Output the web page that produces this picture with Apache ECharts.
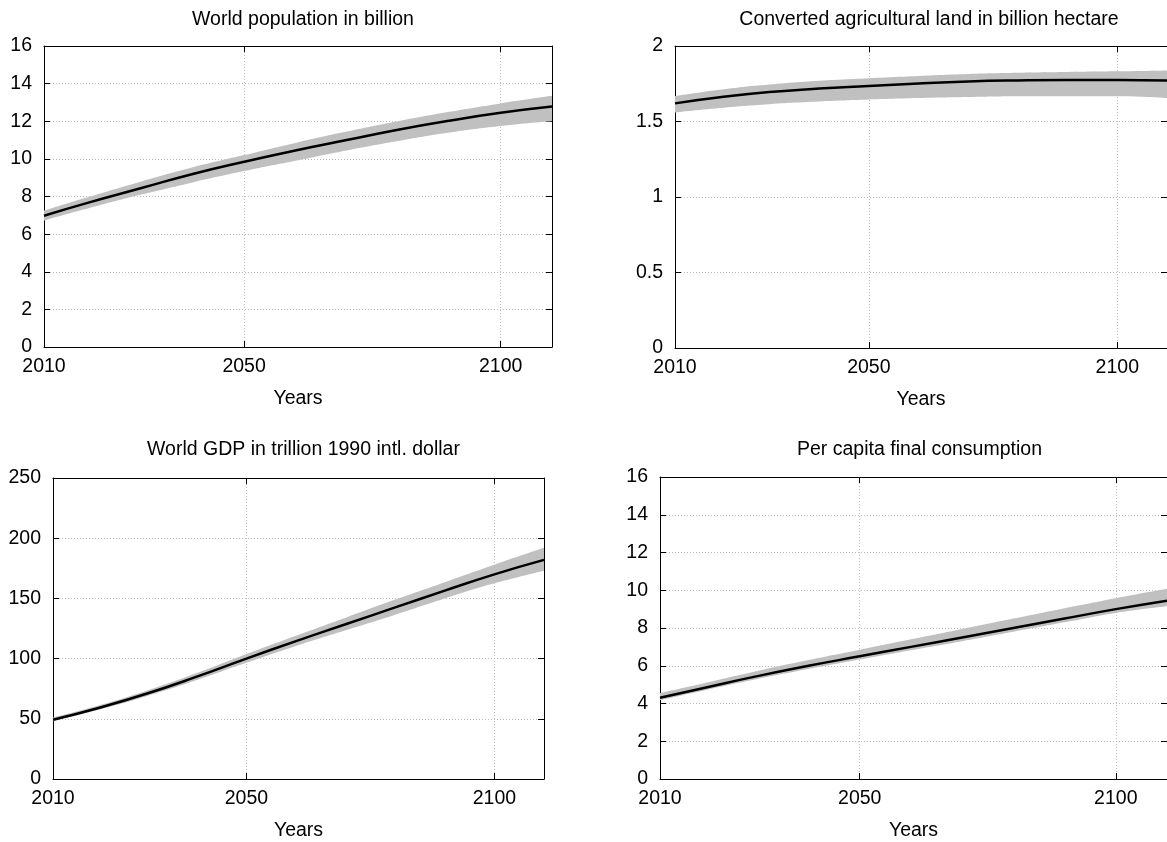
<!DOCTYPE html>
<html>
<head>
<meta charset="utf-8">
<script src="https://cdn.jsdelivr.net/npm/echarts@6/dist/echarts.min.js"></script>
<style>
html,body{margin:0;padding:0;background:#fff;}
#chart{width:1167px;height:842px;}
</style>
</head>
<body>
<div id="chart"></div>
<script>
// ---- data ----
const years = [2011, 2020, 2030, 2040, 2050, 2060, 2070, 2080, 2090, 2100, 2110];

const popMean = [6.98, 7.7, 8.45, 9.2, 9.85, 10.45, 11.0, 11.55, 12.03, 12.45, 12.78];
const popHigh = [7.25, 8.0, 8.8, 9.55, 10.2, 10.85, 11.45, 12.0, 12.5, 12.95, 13.35];
const popLow  = [6.72, 7.4, 8.1, 8.75, 9.35, 9.9, 10.45, 10.95, 11.4, 11.75, 12.0];

const landMean = [1.62, 1.66, 1.695, 1.718, 1.735, 1.752, 1.765, 1.772, 1.775, 1.775, 1.772];
const landHigh = [1.668, 1.71, 1.745, 1.77, 1.787, 1.802, 1.815, 1.823, 1.828, 1.832, 1.838];
const landLow  = [1.56, 1.59, 1.615, 1.632, 1.645, 1.655, 1.662, 1.667, 1.668, 1.667, 1.655];

const gdpMean = [49.2, 58.8, 71, 85, 100, 114.5, 128.5, 142.5, 156.5, 170, 182];
const gdpHigh = [51, 60.8, 73.5, 88, 103.8, 119, 134, 149, 163.5, 178, 192];
const gdpLow  = [48, 57.3, 69, 82.2, 96.5, 110.5, 123.5, 136.5, 150, 162.5, 173];

const consMean = [4.3, 4.85, 5.45, 6.0, 6.5, 7.0, 7.5, 8.0, 8.5, 9.0, 9.45];
const consHigh = [4.55, 5.1, 5.72, 6.3, 6.85, 7.4, 7.95, 8.5, 9.05, 9.58, 10.08];
const consLow  = [4.18, 4.72, 5.3, 5.83, 6.33, 6.82, 7.3, 7.8, 8.3, 8.8, 9.15];

const titles = [
  'World population in billion',
  'Converted agricultural land in billion hectare',
  'World GDP in trillion 1990 intl. dollar',
  'Per capita final consumption'
];
const xName = 'Years';
const xMin = 2011, xMax = 2110;
const xTickValues = [2011, 2050, 2100];
const xTickLabels = ['2010', '2050', '2100'];

const yRanges = [
  {min: 0, max: 16, interval: 2},
  {min: 0, max: 2, interval: 0.5},
  {min: 0, max: 250, interval: 50},
  {min: 0, max: 16, interval: 2}
];

const panelData = [
  {mean: popMean, low: popLow, high: popHigh},
  {mean: landMean, low: landLow, high: landHigh},
  {mean: gdpMean, low: gdpLow, high: gdpHigh},
  {mean: consMean, low: consLow, high: consHigh}
];

// ---- layout ----
const grids = [
  {left: 44, top: 46, width: 508, height: 301},
  {left: 675, top: 46, width: 498, height: 302},
  {left: 53, top: 478, width: 491, height: 301},
  {left: 660, top: 477, width: 509, height: 302}
];
const titleTops = [5, 5, 435, 435];

const FONT = "'Liberation Sans', Arial, sans-serif";
const FS = 19.5;
const BAND = '#c0c0c0';
const GRIDLINE = {color: '#bdbdbd', width: 1, type: [1, 2]};

const option = {
  animation: false,
  backgroundColor: '#fff',
  textStyle: {fontFamily: FONT},
  title: [],
  grid: [],
  xAxis: [],
  yAxis: [],
  series: []
};

grids.forEach((g, i) => {
  option.grid.push({left: g.left, top: g.top, width: g.width, height: g.height, containLabel: false});
  option.title.push({
    text: titles[i],
    left: g.left + g.width / 2,
    top: titleTops[i],
    textAlign: 'center',
    textStyle: {fontFamily: FONT, fontSize: FS, fontWeight: 'normal', color: '#000'}
  });
  const tickFmt = (v) => {
    const k = xTickValues.indexOf(v);
    return k >= 0 ? xTickLabels[k] : '';
  };
  option.xAxis.push({
    gridIndex: i, type: 'value', min: xMin, max: xMax, position: 'bottom',
    name: xName, nameLocation: 'middle', nameGap: 42,
    nameTextStyle: {fontFamily: FONT, fontSize: FS, color: '#000'},
    axisLine: {show: true, onZero: false, lineStyle: {color: '#000', width: 1}},
    axisTick: {show: true, inside: true, length: 6, customValues: xTickValues, lineStyle: {color: '#000'}},
    axisLabel: {show: true, customValues: xTickValues, formatter: tickFmt, margin: 10,
      fontFamily: FONT, fontSize: FS, color: '#000'},
    splitLine: {show: true, lineStyle: GRIDLINE}
  });
  option.xAxis.push({
    gridIndex: i, type: 'value', min: xMin, max: xMax, position: 'top',
    axisLine: {show: true, onZero: false, lineStyle: {color: '#000', width: 1}},
    axisTick: {show: true, inside: true, length: 6, customValues: xTickValues, lineStyle: {color: '#000'}},
    axisLabel: {show: false},
    splitLine: {show: false}
  });
  const yr = yRanges[i];
  option.yAxis.push({
    gridIndex: i, type: 'value', min: yr.min, max: yr.max, interval: yr.interval, position: 'left',
    axisLine: {show: true, onZero: false, lineStyle: {color: '#000', width: 1}},
    axisTick: {show: true, inside: true, length: 6, lineStyle: {color: '#000'}},
    axisLabel: {show: true, margin: 12, fontFamily: FONT, fontSize: FS, color: '#000'},
    splitLine: {show: true, lineStyle: GRIDLINE}
  });
  option.yAxis.push({
    gridIndex: i, type: 'value', min: yr.min, max: yr.max, interval: yr.interval, position: 'right',
    axisLine: {show: true, onZero: false, lineStyle: {color: '#000', width: 1}},
    axisTick: {show: true, inside: true, length: 6, lineStyle: {color: '#000'}},
    axisLabel: {show: false},
    splitLine: {show: false}
  });

  const d = panelData[i];
  // value first, year second, so that stacking happens on the value dimension
  const lowPts = years.map((y, k) => [d.low[k], y]);
  const diffPts = years.map((y, k) => [d.high[k] - d.low[k], y]);
  const meanPts = years.map((y, k) => [d.mean[k], y]);
  const enc = {x: 1, y: 0};
  const stackId = 'band' + i;
  option.series.push({
    type: 'line', xAxisIndex: 2 * i, yAxisIndex: 2 * i, data: lowPts, encode: enc, stack: stackId,
    smooth: true, symbol: 'none', silent: true, lineStyle: {width: 0, opacity: 0}, z: 2
  });
  option.series.push({
    type: 'line', xAxisIndex: 2 * i, yAxisIndex: 2 * i, data: diffPts, encode: enc, stack: stackId,
    smooth: true, symbol: 'none', silent: true, lineStyle: {width: 0, opacity: 0},
    areaStyle: {color: BAND, opacity: 1}, z: 2
  });
  option.series.push({
    type: 'line', xAxisIndex: 2 * i, yAxisIndex: 2 * i, data: meanPts, encode: enc,
    smooth: true, symbol: 'none', silent: true,
    lineStyle: {color: '#000', width: 2.5}, z: 5
  });
});

const chart = echarts.init(document.getElementById('chart'), null, {renderer: 'canvas'});
chart.setOption(option);
</script>
</body>
</html>
